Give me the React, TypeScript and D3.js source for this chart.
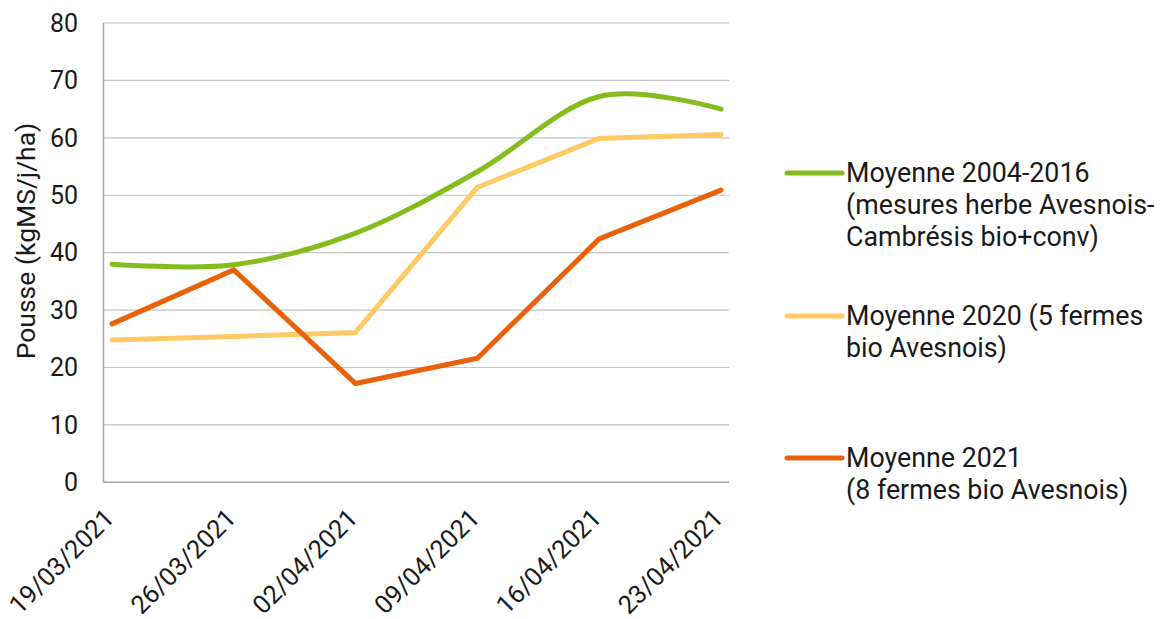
import React from "react";
import { scalePoint, scaleLinear, line, curveCardinal, curveLinear } from "d3";

const dates = ["19/03/2021", "26/03/2021", "02/04/2021", "09/04/2021", "16/04/2021", "23/04/2021"];
const moy2004 = [38, 37.9, 43.4, 54.1, 67.2, 65];
const moy2020 = [24.8, 25.4, 26.1, 51.4, 59.9, 60.6];
const moy2021 = [27.6, 37, 17.2, 21.6, 42.4, 50.9];
const yTicks = [0, 10, 20, 30, 40, 50, 60, 70, 80];

const series = [
  { name: ["Moyenne 2004-2016", "(mesures herbe Avesnois-", "Cambrésis bio+conv)"], values: moy2004, color: "#84bb1d", smooth: true },
  { name: ["Moyenne 2020 (5 fermes", "bio Avesnois)"], values: moy2020, color: "#ffc965", smooth: false },
  { name: ["Moyenne 2021", "(8 fermes bio Avesnois)"], values: moy2021, color: "#e8620b", smooth: false },
];

const App = () => {
  const width = 1161;
  const height = 619;
  const left = 103.5;
  const right = 729;
  const font = "Roboto, sans-serif";

  const x = scalePoint<string>().domain(dates).range([112, 721]);
  const y = scaleLinear().domain([0, 80]).range([482.3, 23]);

  const legendY = [173, 316, 458];

  return (
    <div style={{ position: "absolute", left: 0, top: 0 }}>
      <svg width={width} height={height} viewBox={`0 0 ${width} ${height}`} style={{ display: "block", background: "#fff" }}>
        {/* gridlines */}
        {yTicks.map((t) => (
          <g key={t}>
            {t > 0 && <line x1={left} x2={right} y1={y(t)} y2={y(t)} stroke="#c4c4c4" strokeWidth={1.2} />}
            <text x={78} y={y(t)} dy="0.35em" textAnchor="end" fontFamily={font} fontSize={25} fill="#1a1a1a">{t}</text>
          </g>
        ))}
        <line x1={left} x2={right} y1={y(0)} y2={y(0)} stroke="#a6a6a6" strokeWidth={1.5} />
        <line x1={left} x2={left} y1={y(0)} y2={y(80)} stroke="#a6a6a6" strokeWidth={1.5} />

        {/* y title */}
        <text transform={`translate(35, 241) rotate(-90)`} textAnchor="middle" fontFamily={font} fontSize={26.5} fill="#1a1a1a">
          Pousse (kgMS/j/ha)
        </text>

        {/* x labels */}
        {dates.map((d) => (
          <text key={d} transform={`translate(${(x(d) ?? 0) - 9}, 507) rotate(-45)`} textAnchor="end" dy="0.7em"
            fontFamily={font} fontSize={25.5} fill="#1a1a1a">{d}</text>
        ))}

        {/* series */}
        {series.map((s) => {
          const gen = line<number>()
            .x((_, i) => x(dates[i]) ?? 0)
            .y((v) => y(v))
            .curve(s.smooth ? curveCardinal.tension(0) : curveLinear);
          return (
            <path key={s.color} d={gen(s.values) ?? ""} fill="none" stroke={s.color} strokeWidth={5}
              strokeLinecap="round" strokeLinejoin="round" />
          );
        })}

        {/* legend */}
        {series.map((s, i) => (
          <g key={s.color}>
            <line x1={787} x2={842} y1={legendY[i]} y2={legendY[i]} stroke={s.color} strokeWidth={5} strokeLinecap="round" />
            <text fontFamily={font} fontSize={26.8} fill="#1a1a1a">
              {s.name.map((n, j) => (
                <tspan key={j} x={846} y={legendY[i] + 8.5 + j * 32}>{n}</tspan>
              ))}
            </text>
          </g>
        ))}
      </svg>
    </div>
  );
};

export default App;
